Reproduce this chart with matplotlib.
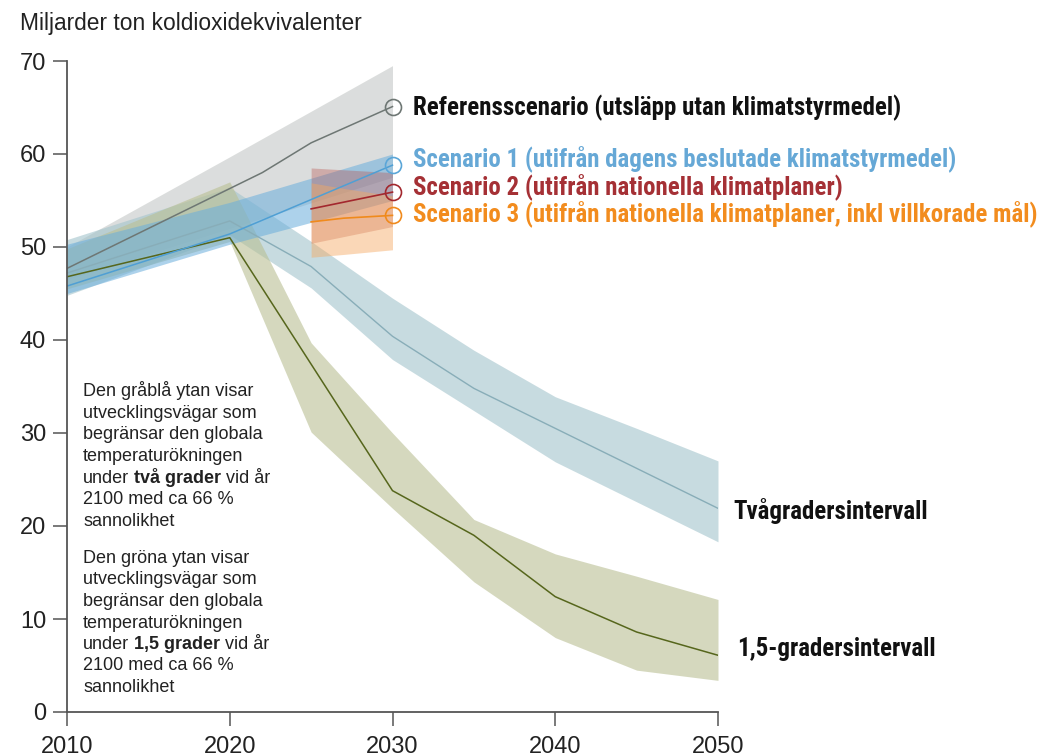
import matplotlib
matplotlib.use("Agg")
import matplotlib.pyplot as plt

# ---------------- data ----------------
years_band = [2010, 2020, 2025, 2030, 2035, 2040, 2045, 2050]
two_top = [50.8, 56.4, 50.6, 44.5, 38.9, 33.9, 30.5, 27.0]
two_bot = [44.8, 51.3, 45.6, 37.9, 32.4, 26.9, 22.6, 18.3]
two_line = [47.2, 52.8, 47.9, 40.4, 34.8, 30.5, 26.2, 21.9]

green_top = [49.8, 57.0, 39.7, 30.0, 20.7, 17.0, 14.6, 12.1]
green_bot = [45.5, 50.6, 30.1, 21.9, 14.0, 8.0, 4.5, 3.4]
green_line_years = [2010, 2020, 2030, 2035, 2040, 2045, 2050]
green_line = [46.8, 51.0, 23.8, 19.0, 12.4, 8.6, 6.1]

ref_band_years = [2010, 2020, 2030]
ref_top = [50.0, 59.7, 69.5]
ref_bot = [46.5, 52.0, 57.5]
ref_years = [2010, 2022, 2025, 2030]
ref_line = [47.7, 58.0, 61.2, 65.1]

s1_band_years = [2010, 2020, 2030]
s1_top = [50.3, 54.8, 60.0]
s1_bot = [45.0, 50.3, 55.0]
s1_years = [2010, 2020, 2030]
s1_line = [45.8, 51.4, 58.8]

s2_years = [2025, 2030]
s2_top = [58.5, 58.0]
s2_bot = [50.4, 52.2]
s2_line = [54.1, 55.9]

s3_years = [2025, 2027, 2030]
s3_top = [56.9, 56.3, 55.5]
s3_bot = [48.9, 49.2, 49.7]
s3_line = [52.7, 53.1, 53.4]

x_ticks = [2010, 2020, 2030, 2040, 2050]
y_ticks = [0, 10, 20, 30, 40, 50, 60, 70]

title = "Miljarder ton koldioxidekvivalenter"
label_ref = "Referensscenario (utsläpp utan klimatstyrmedel)"
label_s1 = "Scenario 1 (utifrån dagens beslutade klimatstyrmedel)"
label_s2 = "Scenario 2 (utifrån nationella klimatplaner)"
label_s3 = "Scenario 3 (utifrån nationella klimatplaner, inkl villkorade mål)"
label_two = "Tvågradersintervall"
label_green = "1,5-gradersintervall"

note1 = [[("Den gråblå ytan visar", False)],
         [("utvecklingsvägar som", False)],
         [("begränsar den globala", False)],
         [("temperaturökningen", False)],
         [("under", False), ("två grader", True), ("vid år", False)],
         [("2100 med ca 66 %", False)],
         [("sannolikhet", False)]]
note2 = [[("Den gröna ytan visar", False)],
         [("utvecklingsvägar som", False)],
         [("begränsar den globala", False)],
         [("temperaturökningen", False)],
         [("under", False), ("1,5 grader", True), ("vid år", False)],
         [("2100 med ca 66 %", False)],
         [("sannolikhet", False)]]

# ---------------- figure ----------------
W, H = 1042, 756
fig = plt.figure(figsize=(W / 100, H / 100), dpi=100)
x0, x1, y0, y1 = 67, 718, 712, 61
ax = fig.add_axes([x0 / W, 1 - y0 / H, (x1 - x0) / W, (y0 - y1) / H])
ax.set_xlim(2010, 2050)
ax.set_ylim(0, 70)

def px_to_y(py):
    return (y0 - py) / (y0 - y1) * 70

def px_to_x(px):
    return 2010 + (px - x0) / (x1 - x0) * 40

BODY = ["Liberation Sans", "DejaVu Sans"]
BOLD = ["Roboto Condensed", "DejaVu Sans"]

# bands
ax.fill_between(ref_band_years, ref_bot, ref_top, color="#c9cccb", alpha=0.65, lw=0, zorder=1)
ax.fill_between(years_band, two_bot, two_top, color="#a3c4cc", alpha=0.6, lw=0, zorder=2)
ax.fill_between(years_band, green_bot, green_top, color="#b9bf93", alpha=0.6, lw=0, zorder=3)
ax.fill_between(s1_band_years, s1_bot, s1_top, color="#6aaedc", alpha=0.55, lw=0, zorder=4)
ax.fill_between(s2_years, s2_bot, s2_top, color="#b8504a", alpha=0.35, lw=0, zorder=5)
ax.fill_between(s3_years, s3_bot, s3_top, color="#f5a860", alpha=0.45, lw=0, zorder=6)

# lines
ax.plot(ref_years, ref_line, color="#6e7774", lw=1.1, zorder=10)
ax.plot(years_band, two_line, color="#88adb8", lw=1.0, zorder=10)
ax.plot(green_line_years, green_line, color="#56661c", lw=1.1, zorder=10)
ax.plot(s1_years, s1_line, color="#4f9fd4", lw=1.1, zorder=11)
ax.plot(s2_years, s2_line, color="#a3282e", lw=1.2, zorder=11)
ax.plot(s3_years, s3_line, color="#f08a1c", lw=1.2, zorder=11)

# end circles
for xs, ys, c in [(ref_years, ref_line, "#6e7774"), (s1_years, s1_line, "#5aa6d8"),
                  (s2_years, s2_line, "#a3282e"), (s3_years, s3_line, "#f08a1c")]:
    ax.plot([xs[-1]], [ys[-1]], marker="o", ms=11.5, mfc="none", mec=c, mew=1.2,
            zorder=12, clip_on=False)

# scenario labels
LFS = 17.9
lx = px_to_x(413)
for txt, yv, c in [(label_ref, px_to_y(108), "#111111"), (label_s1, px_to_y(159), "#66a8d6"),
                   (label_s2, px_to_y(187), "#a53035"), (label_s3, px_to_y(214), "#f28c1e")]:
    ax.text(lx, yv, txt, color=c, fontsize=LFS, family=BOLD, weight="bold",
            va="center", ha="left", clip_on=False)

ax.text(px_to_x(733), px_to_y(511), label_two, color="#111111", fontsize=LFS, family=BOLD,
        weight="bold", va="center", ha="left", clip_on=False)
ax.text(px_to_x(737), px_to_y(649), label_green, color="#111111", fontsize=LFS, family=BOLD,
        weight="bold", va="center", ha="left", clip_on=False)

# notes
def rich_line(x, y, parts):
    prev = None
    for txt, bold in parts:
        kw = dict(fontsize=13, family=BODY, weight="bold" if bold else "normal",
                  color="#222222", ha="left")
        if prev is None:
            prev = ax.text(x, y, txt, va="baseline", **kw)
        else:
            prev = ax.annotate(txt, xy=(1, 0), xycoords=prev, xytext=(3.6, 0),
                               textcoords="offset points", va="bottom", **kw)

nx = px_to_x(83)
for i, parts in enumerate(note1):
    rich_line(nx, px_to_y(396 + 21.7 * i), parts)
for i, parts in enumerate(note2):
    rich_line(nx, px_to_y(563 + 21.5 * i), parts)

# axes styling
for s in ["top", "right"]:
    ax.spines[s].set_visible(False)
for s in ["left", "bottom"]:
    ax.spines[s].set_color("#555555")
    ax.spines[s].set_linewidth(1.3)
    ax.spines[s].set_zorder(20)
ax.set_xticks(x_ticks)
ax.set_yticks(y_ticks)
ax.tick_params(axis="both", direction="out", length=10, width=1.1, color="#555555",
               labelsize=17, labelcolor="#222222")
ax.tick_params(axis="y", pad=5)
ax.tick_params(axis="x", pad=7)
for lab in ax.get_xticklabels() + ax.get_yticklabels():
    lab.set_family(BODY)

fig.text(20 / W, 1 - 30 / H, title, fontsize=16.4, family=BODY, color="#222222",
         va="baseline", ha="left")

fig.savefig("out.png", dpi=100)
